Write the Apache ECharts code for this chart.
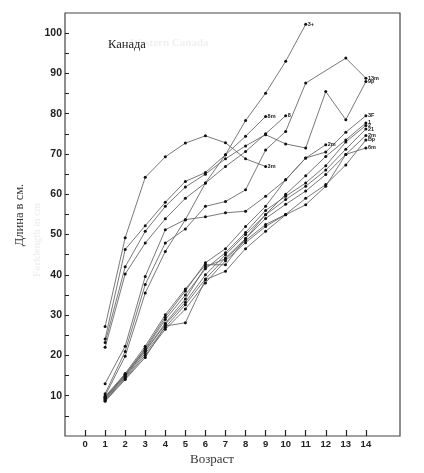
<!DOCTYPE html>
<html><head><meta charset="utf-8">
<script src="https://cdn.jsdelivr.net/npm/echarts@6/dist/echarts.min.js"></script>
<style>html,body{margin:0;padding:0;background:#fff}#c{width:424px;height:473px}</style>
</head><body><div id="c"></div>
<script>
const ages = [1,2,3,4,5,6,7,8,9,10,11,12,13,14];
const xTickMin = 0, xTickMax = 14;      // x tick labels 0..14
const yTickMin = 5, yTickMax = 100;     // y ticks every 5, labels every 10

// upper group
const s3m   = [27.2, 49.2, 64.2, 69.3, 72.7, 74.5, 72.8, 68.8, 66.9];
const s8m   = [24.1, 46.3, 52.2, 58.0, 63.2, 65.4, 69.8, 74.4, 79.3];
const s9p   = [23.2, 42.0, 50.8, 57.0, 61.8, 65.0, 68.8, 72.0, 74.8, 72.5, 71.5, 85.5, 78.5, 88.0];
const s8    = [22.0, 40.2, 47.9, 53.9, 59.0, 62.8, 66.9, 70.6, 75.0, 79.5];
// middle group
const s3plus = [13.0, 22.3, 39.6, 51.2, 53.7, 62.8, 69.8, 78.3, 85.1, 93.0, 102.2];
const s13m  = [10.5, 21.0, 37.6, 47.9, 51.4, 57.0, 58.2, 61.1, 71.0, 75.6, 87.6, null, 93.8, 88.8];
const s3F   = [10.0, 19.8, 35.5, 45.8, 53.7, 54.4, 55.4, 55.8, 59.5, 63.6, 69.0, 70.5, 75.4, 79.5];
// lower bundle
const s1    = [9.8, 15.5, 22.3, 30.1, 36.5, 42.5, 42.5, 49.0, 55.0, 60.0, 64.6, 69.4, 73.5, 77.7];
const s2    = [9.5, 15.3, 21.5, 28.9, 35.0, 41.5, 45.5, 50.5, 56.0, 59.5, 62.8, 67.1, 73.0, 77.1];
const s21   = [9.2, 14.8, 21.0, 27.7, 33.2, 40.0, 45.0, 50.0, 54.9, 58.7, 62.0, 66.0, 71.2, 76.2];
const s2m   = [9.0, 14.5, 20.5, 27.0, 32.6, 39.0, 44.2, 49.0, 54.0, 57.5, 60.8, 64.9, 69.9, 74.6];
const sBp   = [8.8, 14.2, 20.0, 26.5, 31.5, 38.0, 43.5, 48.0, 52.0, 55.0, 59.0, 62.4, 67.3, 73.5];
const s6m   = [8.6, 14.0, 19.5, 27.3, 28.1, 38.8, 40.9, 46.5, 50.8, 54.9, 57.4, 62.0, 69.9, 71.5];
const s2m12 = [9.6, 15.2, 21.8, 29.5, 36.0, 43.0, 46.5, 52.0, 57.0, 63.6, 69.0, 72.3];
const sL10  = [9.3, 15.0, 21.2, 28.0, 34.0, 42.0, 44.0, 48.5, 52.5, 55.0];

const seriesList = [
  ['3m', s3m], ['8m', s8m], ['9p', s9p], ['8', s8], ['3+', s3plus], ['13m', s13m], ['3F', s3F],
  ['1', s1], ['2', s2], ['21', s21], ['2m', s2m], ['Bp', sBp], ['6m', s6m], ['2m ', s2m12], ['', sL10]
];

// main plot geometry
const G = {left: 65, right: 24, top: 13, bottom: 37};
const W = 424, H = 473;
const xMin = -1, xMax = 15.7, yMin = 0, yMax = 105;
const pxX = v => G.left + (v - xMin) / (xMax - xMin) * (W - G.left - G.right);
const pxY = v => (H - G.bottom) - (v - yMin) / (yMax - yMin) * (H - G.top - G.bottom);

const chart = echarts.init(document.getElementById('c'));
chart.setOption({
  backgroundColor: '#fff',
  animation: false,
  grid: [
    {left: G.left, right: G.right, top: G.top, bottom: G.bottom, show: true, borderColor: '#444', borderWidth: 1.2},
    {left: pxX(xTickMin), right: W - pxX(xTickMax), top: G.top, bottom: G.bottom},
    {left: G.left, right: G.right, top: pxY(yTickMax), bottom: H - pxY(yTickMin)}
  ],
  xAxis: [
    {type: 'value', min: xMin, max: xMax, gridIndex: 0, axisLine: {show: false, onZero: false}, axisTick: {show: false}, axisLabel: {show: false}, splitLine: {show: false}},
    {type: 'value', min: xTickMin, max: xTickMax, interval: 1, gridIndex: 1, position: 'bottom',
      axisLine: {show: false, onZero: false},
      axisTick: {show: true, inside: true, length: 6, lineStyle: {color: '#222', width: 1.2}},
      axisLabel: {margin: 3, fontSize: 9.5, fontWeight: 'bold', color: '#222', fontFamily: 'Liberation Sans'},
      splitLine: {show: false}},
    {type: 'value', min: xMin, max: xMax, gridIndex: 2, show: false, axisLine: {onZero: false}}
  ],
  yAxis: [
    {type: 'value', min: yMin, max: yMax, gridIndex: 0, axisLine: {show: false, onZero: false}, axisTick: {show: false}, axisLabel: {show: false}, splitLine: {show: false}},
    {type: 'value', min: yMin, max: yMax, gridIndex: 1, show: false, axisLine: {onZero: false}},
    {type: 'value', min: yTickMin, max: yTickMax, interval: 5, gridIndex: 2, position: 'left',
      axisLine: {show: false, onZero: false},
      axisTick: {show: true, inside: true, length: 4, lineStyle: {color: '#222', width: 1}},
      axisLabel: {margin: 3, fontSize: 10.5, fontWeight: 'bold', color: '#222', fontFamily: 'Liberation Sans',
        formatter: v => (v % 10 === 0 ? String(v) : '')},
      splitLine: {show: false}}
  ],
  graphic: [
    {type: 'text', left: 130, top: 38, style: {text: 'Western Canada', font: 'bold 11px "Liberation Serif"', fill: '#f0f0f0'}},
    {type: 'text', left: 108, top: 38, style: {text: 'Канада', font: '12.5px "Liberation Serif"', fill: '#222'}},
    {type: 'text', x: 37, y: 240, rotation: Math.PI/2, style: {text: 'Forklength in cm', font: 'bold 10px "Liberation Serif"', fill: '#f0f0f0', align: 'center', verticalAlign: 'middle'}},
    {type: 'text', x: 20, y: 215, rotation: Math.PI/2, style: {text: 'Длина в см.', font: '12.5px "Liberation Serif"', fill: '#333', align: 'center', verticalAlign: 'middle'}},
    {type: 'text', x: 212, y: 460, style: {text: 'Возраст', font: '13px "Liberation Serif"', fill: '#333', align: 'center', verticalAlign: 'middle'}}
  ],
  series: seriesList.map(([name, vals]) => ({
    type: 'line', name: name, xAxisIndex: 0, yAxisIndex: 0,
    data: vals.map((v, i) => [ages[i], v]),
    connectNulls: true,
    symbol: 'circle', symbolSize: 3,
    itemStyle: {color: '#111'},
    lineStyle: {color: '#6a6a6a', width: 0.9},
    endLabel: {show: name !== '', formatter: name.trim(), fontSize: 5.5, color: '#222', distance: 2, fontFamily: 'Liberation Sans', fontWeight: 'bold'},
    z: 2
  }))
});
</script>
</body></html>
